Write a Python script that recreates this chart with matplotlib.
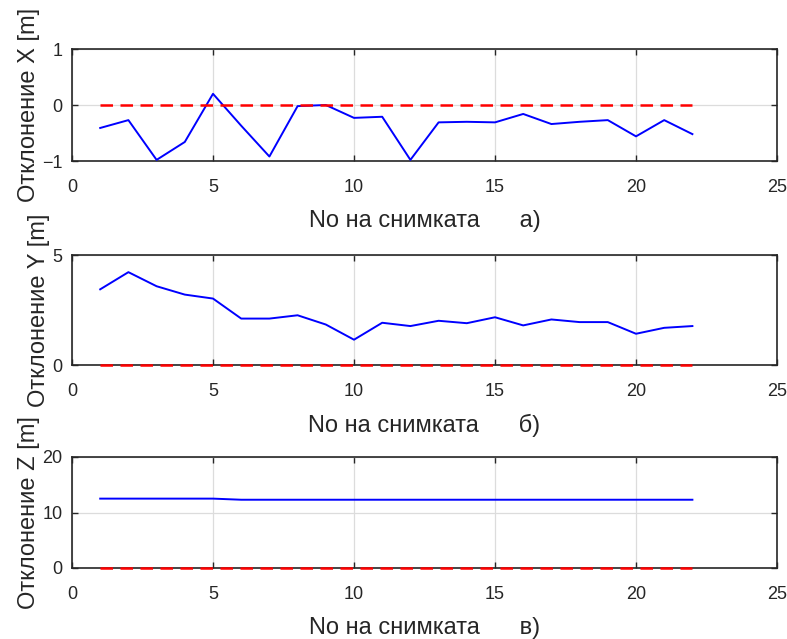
import matplotlib
matplotlib.use("Agg")
import matplotlib.pyplot as plt
import numpy as np

plt.rcParams['font.family'] = ['Liberation Sans', 'DejaVu Sans']

frames = list(range(1, 23))
dev_x = [-0.41, -0.27, -0.98, -0.66, 0.20, -0.37, -0.92, -0.02, 0.00, -0.23, -0.21,
         -0.98, -0.31, -0.30, -0.31, -0.16, -0.34, -0.30, -0.27, -0.56, -0.27, -0.52]
dev_y = [3.44, 4.22, 3.58, 3.20, 3.02, 2.11, 2.11, 2.26, 1.84, 1.15, 1.92,
         1.77, 2.01, 1.90, 2.17, 1.80, 2.07, 1.95, 1.95, 1.42, 1.69, 1.77]
dev_z = [12.5, 12.5, 12.5, 12.5, 12.5, 12.3, 12.3, 12.3, 12.3, 12.3, 12.3,
         12.3, 12.3, 12.3, 12.3, 12.3, 12.3, 12.3, 12.3, 12.3, 12.3, 12.3]
ref = [0.0] * 22

ylabels = ['Отклонение X [m]', 'Отклонение Y [m]', 'Отклонение Z [m]']
xlabels = ['No на снимката      а)', 'No на снимката      б)', 'No на снимката      в)']
ylims = [(-1, 1), (0, 5), (0, 20)]
yticks = [[-1, 0, 1], [0, 5], [0, 10, 20]]
xticks = [0, 5, 10, 15, 20, 25]

fig = plt.figure(figsize=(7.87, 6.39), dpi=100)
W, H = 787, 639
boxes = [(72, 49, 777, 161), (72, 255, 777, 365), (72, 457, 777, 568)]
series = [dev_x, dev_y, dev_z]
edge = '#262626'
for i in range(3):
    l, t, r, b = boxes[i]
    ax = fig.add_axes([l / W, 1 - b / H, (r - l) / W, (b - t) / H])
    ax.plot(frames, ref, color='red', linestyle=(0, (5, 3)), linewidth=1.8,
            zorder=5, clip_on=False)
    ax.plot(frames, series[i], color='blue', linewidth=1.4, zorder=4)
    ax.set_xlim(0, 25)
    ax.set_ylim(*ylims[i])
    ax.set_xticks(xticks)
    ax.set_yticks(yticks[i])
    ax.grid(True, color='#dcdcdc', linewidth=0.9)
    ax.set_axisbelow(True)
    ax.tick_params(direction='in', top=True, right=True, length=4, width=1,
                   color=edge, labelcolor=edge, labelsize=13)
    ax.tick_params(axis='x', pad=13)
    ax.tick_params(axis='y', pad=7)
    for s in ax.spines.values():
        s.set_color(edge)
        s.set_linewidth(1.2)
    ax.set_xlabel(xlabels[i], fontsize=17, color=edge, labelpad=10)
    ax.set_ylabel(ylabels[i], fontsize=17, color=edge, labelpad=1.5)

fig.savefig('out.png', dpi=100)
